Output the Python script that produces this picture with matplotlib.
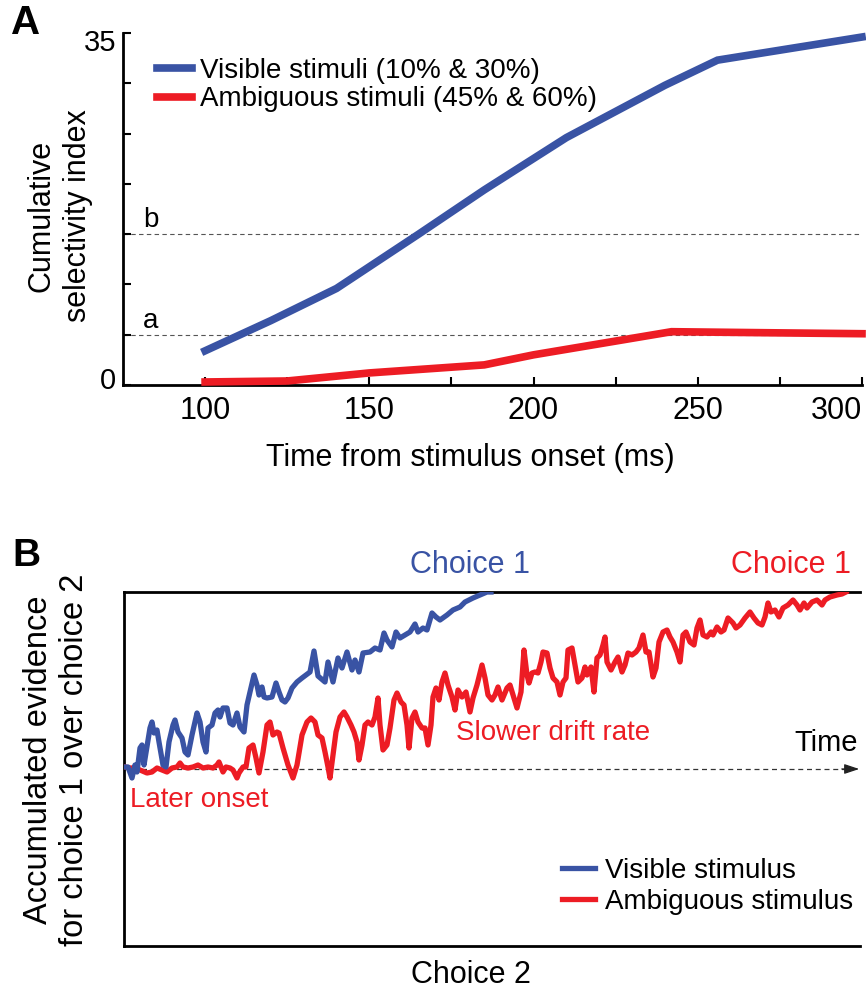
import matplotlib
matplotlib.use("Agg")
import matplotlib.pyplot as plt
from matplotlib.transforms import ScaledTranslation

plt.rcParams['font.family'] = ['Liberation Sans', 'DejaVu Sans']

BLUE = '#3953a4'
RED = '#ed1c24'

# ---- Panel A: cumulative selectivity index ----
vis_t = [100, 120, 140, 165, 185, 210, 240, 256, 300]
vis_csi = [3.4, 6.4, 9.6, 15.0, 19.4, 24.6, 29.8, 32.3, 34.6]
amb_t = [100, 125, 150, 185, 200, 242, 270, 300]
amb_csi = [0.3, 0.4, 1.2, 2.0, 3.0, 5.3, 5.2, 5.1]
thresh_a = 5
thresh_b = 15

# ---- Panel B: accumulated evidence traces (arbitrary units, bound = 177) ----
bound = 177
vis_time = [1, 4, 8, 11, 13, 16, 18, 20, 26, 28, 30, 33, 35, 39, 42, 45, 49, 51, 54, 58,
            61, 64, 68, 73, 76, 79, 82, 84, 88, 91, 94, 96, 99, 103, 106, 109, 113, 116, 120, 123,
            126, 130, 133, 135, 138, 140, 143, 148, 152, 155, 158, 161, 164, 168, 173, 178, 182, 186, 190, 194,
            201, 204, 209, 214, 218, 223, 228, 231, 235, 239, 246, 251, 256, 260, 263, 268, 272, 276, 281, 286,
            291, 294, 299, 303, 308, 312, 316, 323, 329, 336, 341, 349, 356, 363, 367]
vis_ev = [2, 2, -9, 4, -3, 21, 24, 4, 41, 47, 36, 39, 27, 4, 2, 27, 44, 49, 37, 31,
          17, 14, 34, 56, 47, 27, 17, 41, 44, 56, 59, 52, 61, 61, 46, 44, 56, 42, 37, 64,
          77, 94, 84, 74, 82, 72, 71, 72, 86, 77, 69, 67, 71, 81, 87, 91, 94, 97, 118, 93,
          87, 107, 87, 111, 101, 117, 99, 109, 97, 116, 117, 121, 119, 136, 129, 122, 137, 131, 134, 137,
          145, 137, 141, 139, 156, 152, 149, 154, 159, 162, 167, 171, 174, 177, 177]

amb_time = [1, 6, 11, 16, 23, 28, 33, 38, 43, 48, 53, 56, 59, 64, 69, 74, 79, 84, 89, 93,
            95, 99, 102, 106, 109, 113, 115, 119, 122, 125, 129, 132, 135, 139, 143, 146, 149, 153, 155, 159,
            164, 169, 173, 178, 183, 187, 191, 194, 198, 201, 204, 206, 209, 212, 216, 220, 223, 227, 230, 233,
            235, 238, 241, 244, 248, 251, 254, 256, 259, 263, 266, 270, 273, 277, 280, 283, 285, 288, 291, 294,
            298, 301, 304, 307, 309, 312, 315, 318, 321, 324, 328, 331, 334, 338, 342, 346, 349, 353, 358, 361,
            364, 368, 371, 374, 378, 383, 386, 389, 393, 397, 400, 403, 405, 408, 411, 414, 417, 419, 423, 426,
            429, 433, 436, 439, 442, 444, 448, 451, 454, 458, 461, 463, 467, 470, 473, 476, 479, 481, 483, 487,
            491, 494, 498, 501, 504, 508, 512, 515, 519, 522, 525, 529, 532, 535, 539, 543, 546, 549, 553, 556,
            559, 562, 566, 570, 573, 576, 579, 583, 587, 589, 593, 597, 600, 604, 609, 612, 616, 621, 626, 630,
            634, 638, 641, 644, 647, 651, 655, 659, 664, 669, 673, 676, 680, 683, 688, 693, 698, 701, 706, 713,
            718, 722]
amb_ev = [2, 1, 1, -1, -4, -3, 1, -1, -3, 1, 2, 6, 2, 1, 2, 4, 1, 2, 1, 4,
          7, -3, 2, 1, -1, -9, -4, 2, 2, 21, 24, 11, -4, 17, 44, 47, 34, 37, 36, 21,
          4, -9, 4, 34, 47, 51, 47, 34, 31, 17, 2, -9, 14, 37, 52, 57, 52, 44, 37, 27,
          9, 24, 44, 47, 44, 52, 71, 44, 19, 24, 41, 69, 76, 67, 64, 44, 21, 51, 57, 47,
          41, 41, 24, 44, 72, 81, 69, 87, 96, 84, 72, 59, 79, 72, 77, 57, 71, 84, 104, 91,
          74, 69, 74, 82, 69, 81, 84, 74, 61, 77, 119, 94, 86, 96, 97, 96, 107, 117, 116, 101,
          91, 87, 74, 87, 91, 119, 121, 104, 87, 91, 102, 94, 102, 77, 111, 114, 124, 132, 107, 99,
          107, 112, 97, 104, 116, 114, 117, 121, 134, 117, 117, 92, 101, 127, 137, 139, 132, 127, 117, 107,
          134, 137, 127, 124, 141, 149, 134, 132, 137, 134, 142, 137, 139, 151, 146, 141, 144, 151, 157, 151,
          146, 144, 152, 166, 157, 159, 152, 161, 164, 169, 164, 159, 166, 161, 167, 169, 164, 169, 172, 174,
          175, 177]

fig = plt.figure(figsize=(8.66, 9.89), dpi=100)

# ================= Panel A =================
axA = fig.add_axes([123 / 866, 1 - 385 / 989, 739 / 866, 352 / 989])
axA.axhline(thresh_b, color='#555555', lw=0.8, ls=(0, (4, 3)), zorder=1)
axA.axhline(thresh_a, color='#555555', lw=0.8, ls=(0, (4, 3)), zorder=1)
axA.plot(vis_t, vis_csi, color=BLUE, lw=5.5, solid_joinstyle='miter',
         label='Visible stimuli (10% & 30%)', clip_on=False, zorder=3)
axA.plot(amb_t, amb_csi, color=RED, lw=5.5, solid_joinstyle='miter',
         label='Ambiguous stimuli (45% & 60%)', clip_on=False, zorder=3)
axA.text(81, 15.7, 'b', fontsize=20, va='baseline')
axA.text(81, 5.7, 'a', fontsize=20, va='baseline')

axA.set_xlim(75, 300)
axA.set_ylim(0, 35)
axA.set_xticks([100, 150, 200, 250, 300])
axA.set_xticks([125, 175, 225, 275], minor=True)
axA.set_yticks(range(0, 36, 5))
axA.set_yticklabels(['0', '', '', '', '', '', '', '35'])
axA.tick_params(which='both', direction='in', length=6, width=1.5)
axA.tick_params(axis='x', labelsize=22, pad=8)
axA.tick_params(axis='y', labelsize=21, pad=5)
ylabs = axA.get_yticklabels()
ylabs[0].set_transform(ylabs[0].get_transform() + ScaledTranslation(0, 7 / 100, fig.dpi_scale_trans))
ylabs[-1].set_transform(ylabs[-1].get_transform() + ScaledTranslation(0, -7 / 100, fig.dpi_scale_trans))
axA.get_xticklabels()[-1].set_horizontalalignment('right')
for s in ['top', 'right']:
    axA.spines[s].set_visible(False)
for s in ['left', 'bottom']:
    axA.spines[s].set_linewidth(2)

axA.set_xlabel('Time from stimulus onset (ms)', fontsize=22)
axA.xaxis.set_label_coords(0.47, -0.165)
axA.set_ylabel('Cumulative\nselectivity index', fontsize=22, linespacing=1.3)
axA.yaxis.set_label_coords(-0.04, 0.48)

axA.legend(loc='upper left', bbox_to_anchor=(0.046, 0.93), frameon=False,
           fontsize=20, handlelength=1.25, handletextpad=0.3, labelspacing=0.1,
           borderpad=0, borderaxespad=0)
fig.text(26 / 866, 1 - 23 / 989, 'A', fontsize=29, fontweight='bold', ha='center', va='center')

# ================= Panel B =================
axB = fig.add_axes([124 / 866, 1 - 946 / 989, 736 / 866, 354 / 989])
axB.plot([0, 722], [0, 0], color='#333333', lw=0.9, ls=(0, (4, 3)), zorder=1)
axB.annotate('', xy=(738, 0), xytext=(715, 0), annotation_clip=False,
             arrowprops=dict(arrowstyle='-|>,head_length=0.9,head_width=0.3',
                             color='#222222', lw=0.9))
axB.plot(amb_time, amb_ev, color=RED, lw=3.8, label='Ambiguous stimulus', zorder=3)
axB.plot(vis_time, vis_ev, color=BLUE, lw=3.8, label='Visible stimulus', zorder=4)

axB.set_xlim(0, 736)
axB.set_ylim(-bound, bound)
axB.set_xticks([])
axB.set_yticks([])
axB.spines['right'].set_visible(False)
for s in ['left', 'bottom', 'top']:
    axB.spines[s].set_linewidth(2)

axB.text(346, 204, 'Choice 1', color=BLUE, fontsize=22, ha='center', va='center')
axB.text(667, 204, 'Choice 1', color=RED, fontsize=22, ha='center', va='center')
axB.text(6, -31, 'Later onset', color=RED, fontsize=20, ha='left', va='center')
axB.text(332, 36, 'Slower drift rate', color=RED, fontsize=20, ha='left', va='center')
axB.text(734, 26, 'Time', color='black', fontsize=21, ha='right', va='center')
axB.text(347, -206, 'Choice 2', color='black', fontsize=22, ha='center', va='center')

axB.set_ylabel('Accumulated evidence\nfor choice 1 over choice 2', fontsize=23.5, linespacing=1.2)
axB.yaxis.set_label_coords(-0.046, 0.525)

h, l = axB.get_legend_handles_labels()
axB.legend(h[::-1], l[::-1], loc='upper left', bbox_to_anchor=(0.595, 0.25), frameon=False,
           fontsize=20, handlelength=1.2, handletextpad=0.35, labelspacing=0.2,
           borderpad=0, borderaxespad=0)
fig.text(26 / 866, 1 - 556 / 989, 'B', fontsize=28, fontweight='bold', ha='center', va='center')

fig.savefig('out.png', dpi=100)
